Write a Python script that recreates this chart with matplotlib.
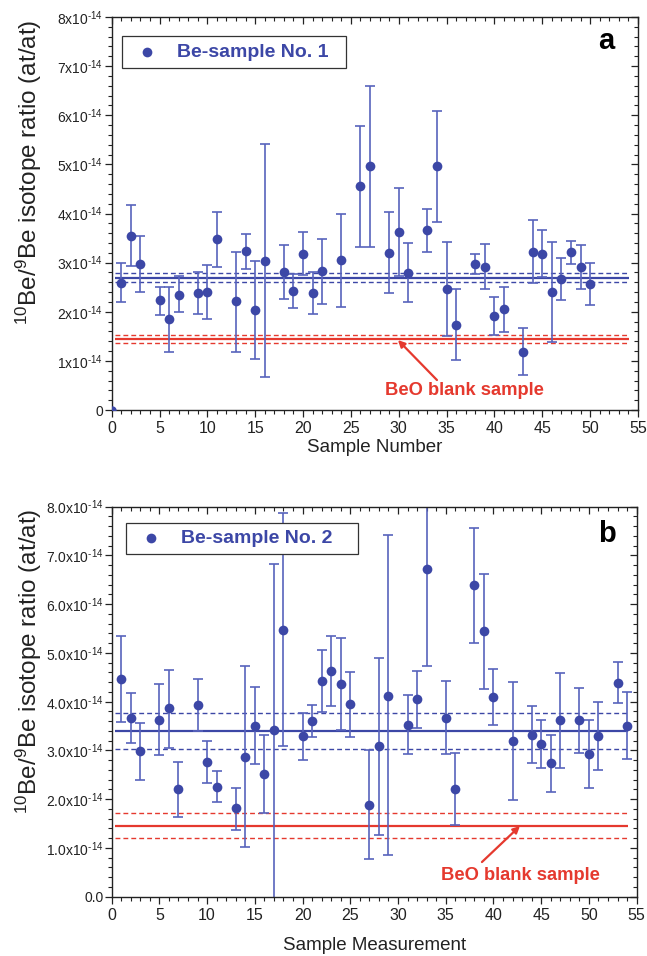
import numpy as np
import matplotlib
matplotlib.use("Agg")
import matplotlib.pyplot as plt
from matplotlib.ticker import MultipleLocator

plt.rcParams['font.family'] = ['Liberation Sans', 'DejaVu Sans']
plt.rcParams['mathtext.fontset'] = 'custom'
plt.rcParams['mathtext.rm'] = 'Liberation Sans'
plt.rcParams['mathtext.it'] = 'Liberation Sans:italic'
plt.rcParams['mathtext.bf'] = 'Liberation Sans:bold'

SCALE = 1e-14  # values below are in units of 1e-14 at/at

# ---- Panel a: Be-sample No. 1 ----
xa = [1, 2, 3, 5, 6, 7, 9, 10, 11, 13, 14, 15, 16, 18, 19, 20, 21, 22, 24, 26,
      27, 29, 30, 31, 33, 34, 35, 36, 38, 39, 40, 41, 43, 44, 45, 46, 47, 48, 49, 50]
ya = [2.59, 3.55, 2.98, 2.23, 1.85, 2.35, 2.38, 2.40, 3.48, 2.21, 3.24, 2.04, 3.04, 2.81, 2.43, 3.18, 2.38, 2.82, 3.05, 4.56,
      4.96, 3.20, 3.63, 2.79, 3.66, 4.96, 2.46, 1.74, 2.97, 2.91, 1.92, 2.06, 1.19, 3.22, 3.18, 2.41, 2.67, 3.21, 2.91, 2.57]
hi_a = [3.00, 4.17, 3.55, 2.50, 2.51, 2.72, 2.80, 2.95, 4.03, 3.22, 3.59, 3.04, 5.42, 3.35, 2.77, 3.63, 2.80, 3.48, 4.00, 5.79,
        6.60, 4.03, 4.51, 3.39, 4.10, 6.09, 3.42, 2.46, 3.17, 3.37, 2.31, 2.51, 1.67, 3.86, 3.67, 3.43, 3.10, 3.45, 3.35, 3.00]
lo_a = [2.19, 2.94, 2.40, 1.94, 1.19, 1.99, 1.96, 1.85, 2.91, 1.18, 2.88, 1.045, 0.67, 2.26, 2.07, 2.74, 1.96, 2.16, 2.10, 3.31,
        3.31, 2.38, 2.73, 2.19, 3.21, 3.82, 1.51, 1.01, 2.76, 2.46, 1.52, 1.59, 0.72, 2.59, 2.70, 1.39, 2.23, 2.98, 2.46, 2.13]
origin_a = [0.0, 0.0]
mean_a = [2.69, 2.78, 2.61]      # mean, upper, lower
blank_a = [1.445, 1.53, 1.36]    # mean, upper, lower

# ---- Panel b: Be-sample No. 2 ----
xb = [1, 2, 3, 5, 6, 7, 9, 10, 11, 13, 14, 15, 16, 17, 18, 20, 21, 22, 23, 24,
      25, 27, 28, 29, 31, 32, 33, 35, 36, 38, 39, 40, 42, 44, 45, 46, 47, 49, 50, 51, 53, 54]
yb = [4.47, 3.67, 2.98, 3.63, 3.87, 2.20, 3.93, 2.76, 2.26, 1.81, 2.87, 3.51, 2.52, 3.41, 5.48, 3.29, 3.60, 4.43, 4.62, 4.37,
      3.95, 1.89, 3.09, 4.12, 3.52, 4.06, 6.73, 3.67, 2.21, 6.39, 5.44, 4.10, 3.19, 3.32, 3.13, 2.74, 3.62, 3.62, 2.93, 3.30, 4.39, 3.51]
hi_b = [5.34, 4.17, 3.56, 4.37, 4.66, 2.77, 4.47, 3.19, 2.57, 2.24, 4.74, 4.31, 3.32, 6.83, 7.88, 3.77, 3.93, 5.06, 5.35, 5.31,
        4.60, 3.01, 4.90, 7.41, 4.13, 4.62, 8.60, 4.42, 2.94, 7.56, 6.61, 4.67, 4.40, 3.91, 3.63, 3.31, 4.58, 4.28, 3.63, 4.00, 4.82, 4.20]
lo_b = [3.58, 3.15, 2.39, 2.90, 3.06, 1.64, 3.39, 2.33, 1.95, 1.37, 1.03, 2.72, 1.72, -0.50, 3.09, 2.80, 3.27, 3.79, 3.91, 3.41,
        3.28, 0.77, 1.27, 0.85, 2.92, 3.47, 4.73, 2.92, 1.47, 5.21, 4.26, 3.53, 1.98, 2.74, 2.63, 2.15, 2.65, 2.95, 2.23, 2.60, 3.97, 2.82]
mean_b = [3.39, 3.76, 3.02]
blank_b = [1.46, 1.71, 1.21]

ytick_vals = [0, 1, 2, 3, 4, 5, 6, 7, 8]
ytick_labels_a = ['0'] + [r'%dx10$^{\mathregular{\text{-}14}}$' % v for v in ytick_vals[1:]]
ytick_labels_b = ['0.0'] + [r'%d.0x10$^{\mathregular{\text{-}14}}$' % v for v in ytick_vals[1:]]

BLUE = '#3C47A6'
BLUE_ERR = '#5863BC'
RED = '#E5392E'
AXC = '#222222'

fig = plt.figure(figsize=(6.47, 9.56), dpi=100)
ax_a = fig.add_axes([0.1726, 0.5711, 0.8134, 0.4111])
ax_b = fig.add_axes([0.1726, 0.0620, 0.8114, 0.4080])


def draw_panel(ax, x, y, hi, lo, mean, blank, ylabels, legend_text, letter,
               xlabel, xlabelpad, legend_box, letter_pos, blank_text_pos, arrow_tail, arrow_head):
    x = np.array(x, float)
    y = np.array(y) * SCALE
    hi = np.array(hi) * SCALE
    lo = np.array(lo) * SCALE
    yerr = np.vstack([y - lo, hi - y])
    ax.errorbar(x, y, yerr=yerr, fmt='none', ecolor=BLUE_ERR, elinewidth=1.2,
                capsize=3.5, capthick=1.2, zorder=2)
    ax.plot(x, y, 'o', color=BLUE, markersize=7, zorder=3, markeredgewidth=0)

    for vals, col in ((mean, BLUE), (blank, RED)):
        ax.hlines(vals[0] * SCALE, 0.4, 54.1, colors=col, lw=1.6, zorder=1)
        ax.hlines([vals[1] * SCALE, vals[2] * SCALE], 0.4, 54.1, colors=col,
                  lw=1.0, linestyles=(0, (3.5, 2.2)), zorder=1)

    ax.set_xlim(0, 55)
    ax.set_ylim(0, 8 * SCALE)
    ax.set_yticks(np.array(ytick_vals) * SCALE)
    ax.set_yticklabels(ylabels)
    ax.xaxis.set_major_locator(MultipleLocator(5))
    ax.xaxis.set_minor_locator(MultipleLocator(1))
    ax.yaxis.set_minor_locator(MultipleLocator(0.2 * SCALE))
    ax.tick_params(which='major', direction='out', length=5, width=0.9, colors=AXC,
                   labelcolor='#222222')
    ax.tick_params(which='minor', direction='out', length=2.8, width=0.8, colors=AXC)
    ax.tick_params(axis='x', labelsize=11.5, pad=3)
    ax.tick_params(axis='y', labelsize=10, pad=1)
    for s in ax.spines.values():
        s.set_color(AXC)
        s.set_linewidth(1.0)

    secx = ax.secondary_xaxis('top')
    secx.xaxis.set_major_locator(MultipleLocator(5))
    secx.xaxis.set_minor_locator(MultipleLocator(1))
    secx.tick_params(which='major', direction='in', length=5, width=0.9, colors=AXC, labeltop=False)
    secx.tick_params(which='minor', direction='in', length=2.8, width=0.8, colors=AXC)
    secx.spines['top'].set_visible(False)
    secy = ax.secondary_yaxis('right')
    secy.yaxis.set_major_locator(MultipleLocator(1 * SCALE))
    secy.yaxis.set_minor_locator(MultipleLocator(0.2 * SCALE))
    secy.tick_params(which='major', direction='in', length=5, width=0.9, colors=AXC, labelright=False)
    secy.tick_params(which='minor', direction='in', length=2.8, width=0.8, colors=AXC)
    secy.spines['right'].set_visible(False)

    ax.set_xlabel(xlabel, fontsize=13.5, color='#222222', labelpad=xlabelpad)

    # legend box
    bx0, by0, bx1, by1 = legend_box
    ax.add_patch(plt.Rectangle((bx0, by0), bx1 - bx0, by1 - by0, transform=ax.transAxes,
                               fill=True, facecolor='white', edgecolor='#333333', lw=0.9, zorder=4))
    ax.plot([bx0 + 0.048], [(by0 + by1) / 2], 'o', color=BLUE, markersize=7,
            transform=ax.transAxes, zorder=5, markeredgewidth=0)
    ax.text(bx0 + 0.104, (by0 + by1) / 2, legend_text, transform=ax.transAxes,
            fontsize=14, fontweight='bold', color=BLUE, va='center', ha='left', zorder=5)

    ax.text(letter_pos[0], letter_pos[1], letter, transform=ax.transAxes, fontsize=21,
            fontweight='bold', color='black', ha='center', va='center')

    ax.text(blank_text_pos[0], blank_text_pos[1], 'BeO blank sample', transform=ax.transAxes,
            fontsize=13.2, fontweight='bold', color=RED, ha='center', va='center')
    ax.annotate('', xy=arrow_head, xycoords='axes fraction', xytext=arrow_tail,
                textcoords='axes fraction',
                arrowprops=dict(arrowstyle='-|>', color=RED, lw=1.6, mutation_scale=10,
                                shrinkA=0, shrinkB=0))


def fa(px, py):
    return ((px - 111.7) / (638 - 111.7), (410 - py) / (410 - 17))


def fb(px, py):
    return ((px - 111.7) / (636.7 - 111.7), (896.7 - py) / (896.7 - 506.7))


la0 = fa(122, 68)
la1 = fa(346, 36)
draw_panel(ax_a, xa, ya, hi_a, lo_a, mean_a, blank_a, ytick_labels_a, 'Be-sample No. 1', 'a',
           'Sample Number', 2, (la0[0], la0[1], la1[0], la1[1]), fa(606, 41), fa(464, 390),
           fa(437, 380), fa(398, 340))
ax_a.plot([origin_a[0]], [origin_a[1]], 'o', color=BLUE, markersize=5, zorder=3, clip_on=True)

lb0 = fb(126, 554)
lb1 = fb(358, 523)
draw_panel(ax_b, xb, yb, hi_b, lo_b, mean_b, blank_b, ytick_labels_b, 'Be-sample No. 2', 'b',
           'Sample Measurement', 10, (lb0[0], lb0[1], lb1[0], lb1[1]), fb(607, 534), fb(520, 875),
           fb(482, 862), fb(520, 826))

ylab = r'$^{\mathregular{10}}$Be/$^{\mathregular{9}}$Be isotope ratio (at/at)'
fig.text(29 / 647, 1 - 172 / 956, ylab, rotation=90, fontsize=17.5, color='#222222',
         ha='center', va='center')
fig.text(29 / 647, 1 - 661 / 956, ylab, rotation=90, fontsize=17.5, color='#222222',
         ha='center', va='center')

fig.savefig('out.png', dpi=100)
